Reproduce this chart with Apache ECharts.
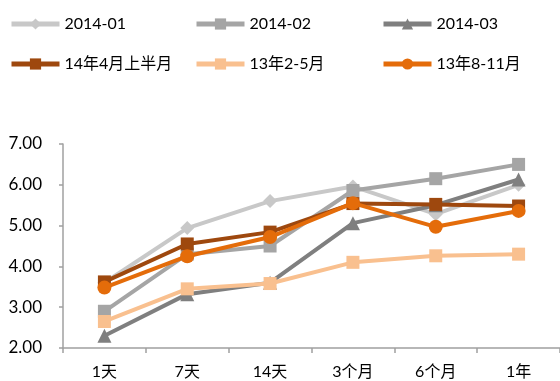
<!DOCTYPE html>
<html>
<head>
<meta charset="utf-8">
<script src="https://cdn.jsdelivr.net/npm/echarts@6/dist/echarts.min.js"></script>
<style>
html,body{margin:0;padding:0;background:#fff;}
#chart{width:560px;height:381px;}
</style>
</head>
<body>
<div id="chart"></div>
<script>
// Tenors on the x axis
const categories = ['1天', '7天', '14天', '3个月', '6个月', '1年'];

// Yield curves per period
const s201401 = [3.60, 4.94, 5.60, 5.96, 5.28, 6.00];
const s201402 = [2.90, 4.30, 4.50, 5.86, 6.15, 6.50];
const s201403 = [2.30, 3.32, 3.60, 5.06, 5.50, 6.13];
const s14Apr = [3.62, 4.55, 4.84, 5.54, 5.52, 5.48];
const s13Feb = [2.65, 3.45, 3.58, 4.10, 4.26, 4.30];
const s13Aug = [3.48, 4.25, 4.72, 5.55, 4.97, 5.36];

const yTicks = [2, 3, 4, 5, 6, 7];

const font = 'Lato, "Noto Sans CJK SC", sans-serif';

const seriesDefs = [
  { name: '2014-01', data: s201401, color: '#c8c8c8', symbol: 'diamond', size: 14, z: 2 },
  { name: '2014-02', data: s201402, color: '#a5a5a5', symbol: 'rect', size: 13, z: 3 },
  { name: '2014-03', data: s201403, color: '#7f7f7f', symbol: 'triangle', size: 14, z: 4 },
  { name: '14年4月上半月', data: s14Apr, color: '#9e480e', symbol: 'rect', size: 13, z: 5 },
  { name: '13年2-5月', data: s13Feb, color: '#f9c08f', symbol: 'rect', size: 13, z: 6 },
  { name: '13年8-11月', data: s13Aug, color: '#e46c0a', symbol: 'circle', size: 14, z: 7 }
];

// One legend per entry so each sits in its own column
const legendPos = [
  [9, 16], [194, 16], [381, 16],
  [9, 56], [194, 56], [381, 56]
];

const chart = echarts.init(document.getElementById('chart'), null, { renderer: 'canvas' });

chart.setOption({
  animation: false,
  backgroundColor: '#ffffff',
  legend: seriesDefs.map((s, i) => ({
    data: [s.name],
    left: legendPos[i][0],
    top: legendPos[i][1],
    padding: 0,
    itemWidth: 48,
    itemHeight: 14,
    itemGap: 5,
    lineStyle: { width: 5 },
    textStyle: { fontFamily: font, fontSize: 16, color: '#000' }
  })),
  grid: { left: 63, right: -7, top: 144, bottom: 33, containLabel: false },
  xAxis: {
    type: 'category',
    data: categories,
    boundaryGap: true,
    axisLine: { lineStyle: { color: '#a0a0a0', width: 1.5 } },
    axisTick: { show: true, length: 5, alignWithLabel: false, lineStyle: { color: '#a0a0a0', width: 1.5 } },
    axisLabel: { fontFamily: font, fontSize: 16, color: '#000', margin: 16 }
  },
  yAxis: {
    type: 'value',
    min: yTicks[0],
    max: yTicks[yTicks.length - 1],
    interval: 1,
    axisLine: { show: true, lineStyle: { color: '#a0a0a0', width: 1.5 } },
    axisTick: { show: true, length: 4, lineStyle: { color: '#a0a0a0', width: 1.5 } },
    splitLine: { show: false },
    axisLabel: {
      fontFamily: font, fontSize: 17, color: '#000', margin: 21,
      formatter: v => v.toFixed(2)
    }
  },
  series: seriesDefs.map(s => ({
    name: s.name,
    type: 'line',
    data: s.data,
    z: s.z,
    symbol: s.symbol,
    symbolSize: s.size,
    showAllSymbol: true,
    lineStyle: { color: s.color, width: 4 },
    itemStyle: { color: s.color, borderWidth: 0 }
  }))
});
</script>
</body>
</html>
